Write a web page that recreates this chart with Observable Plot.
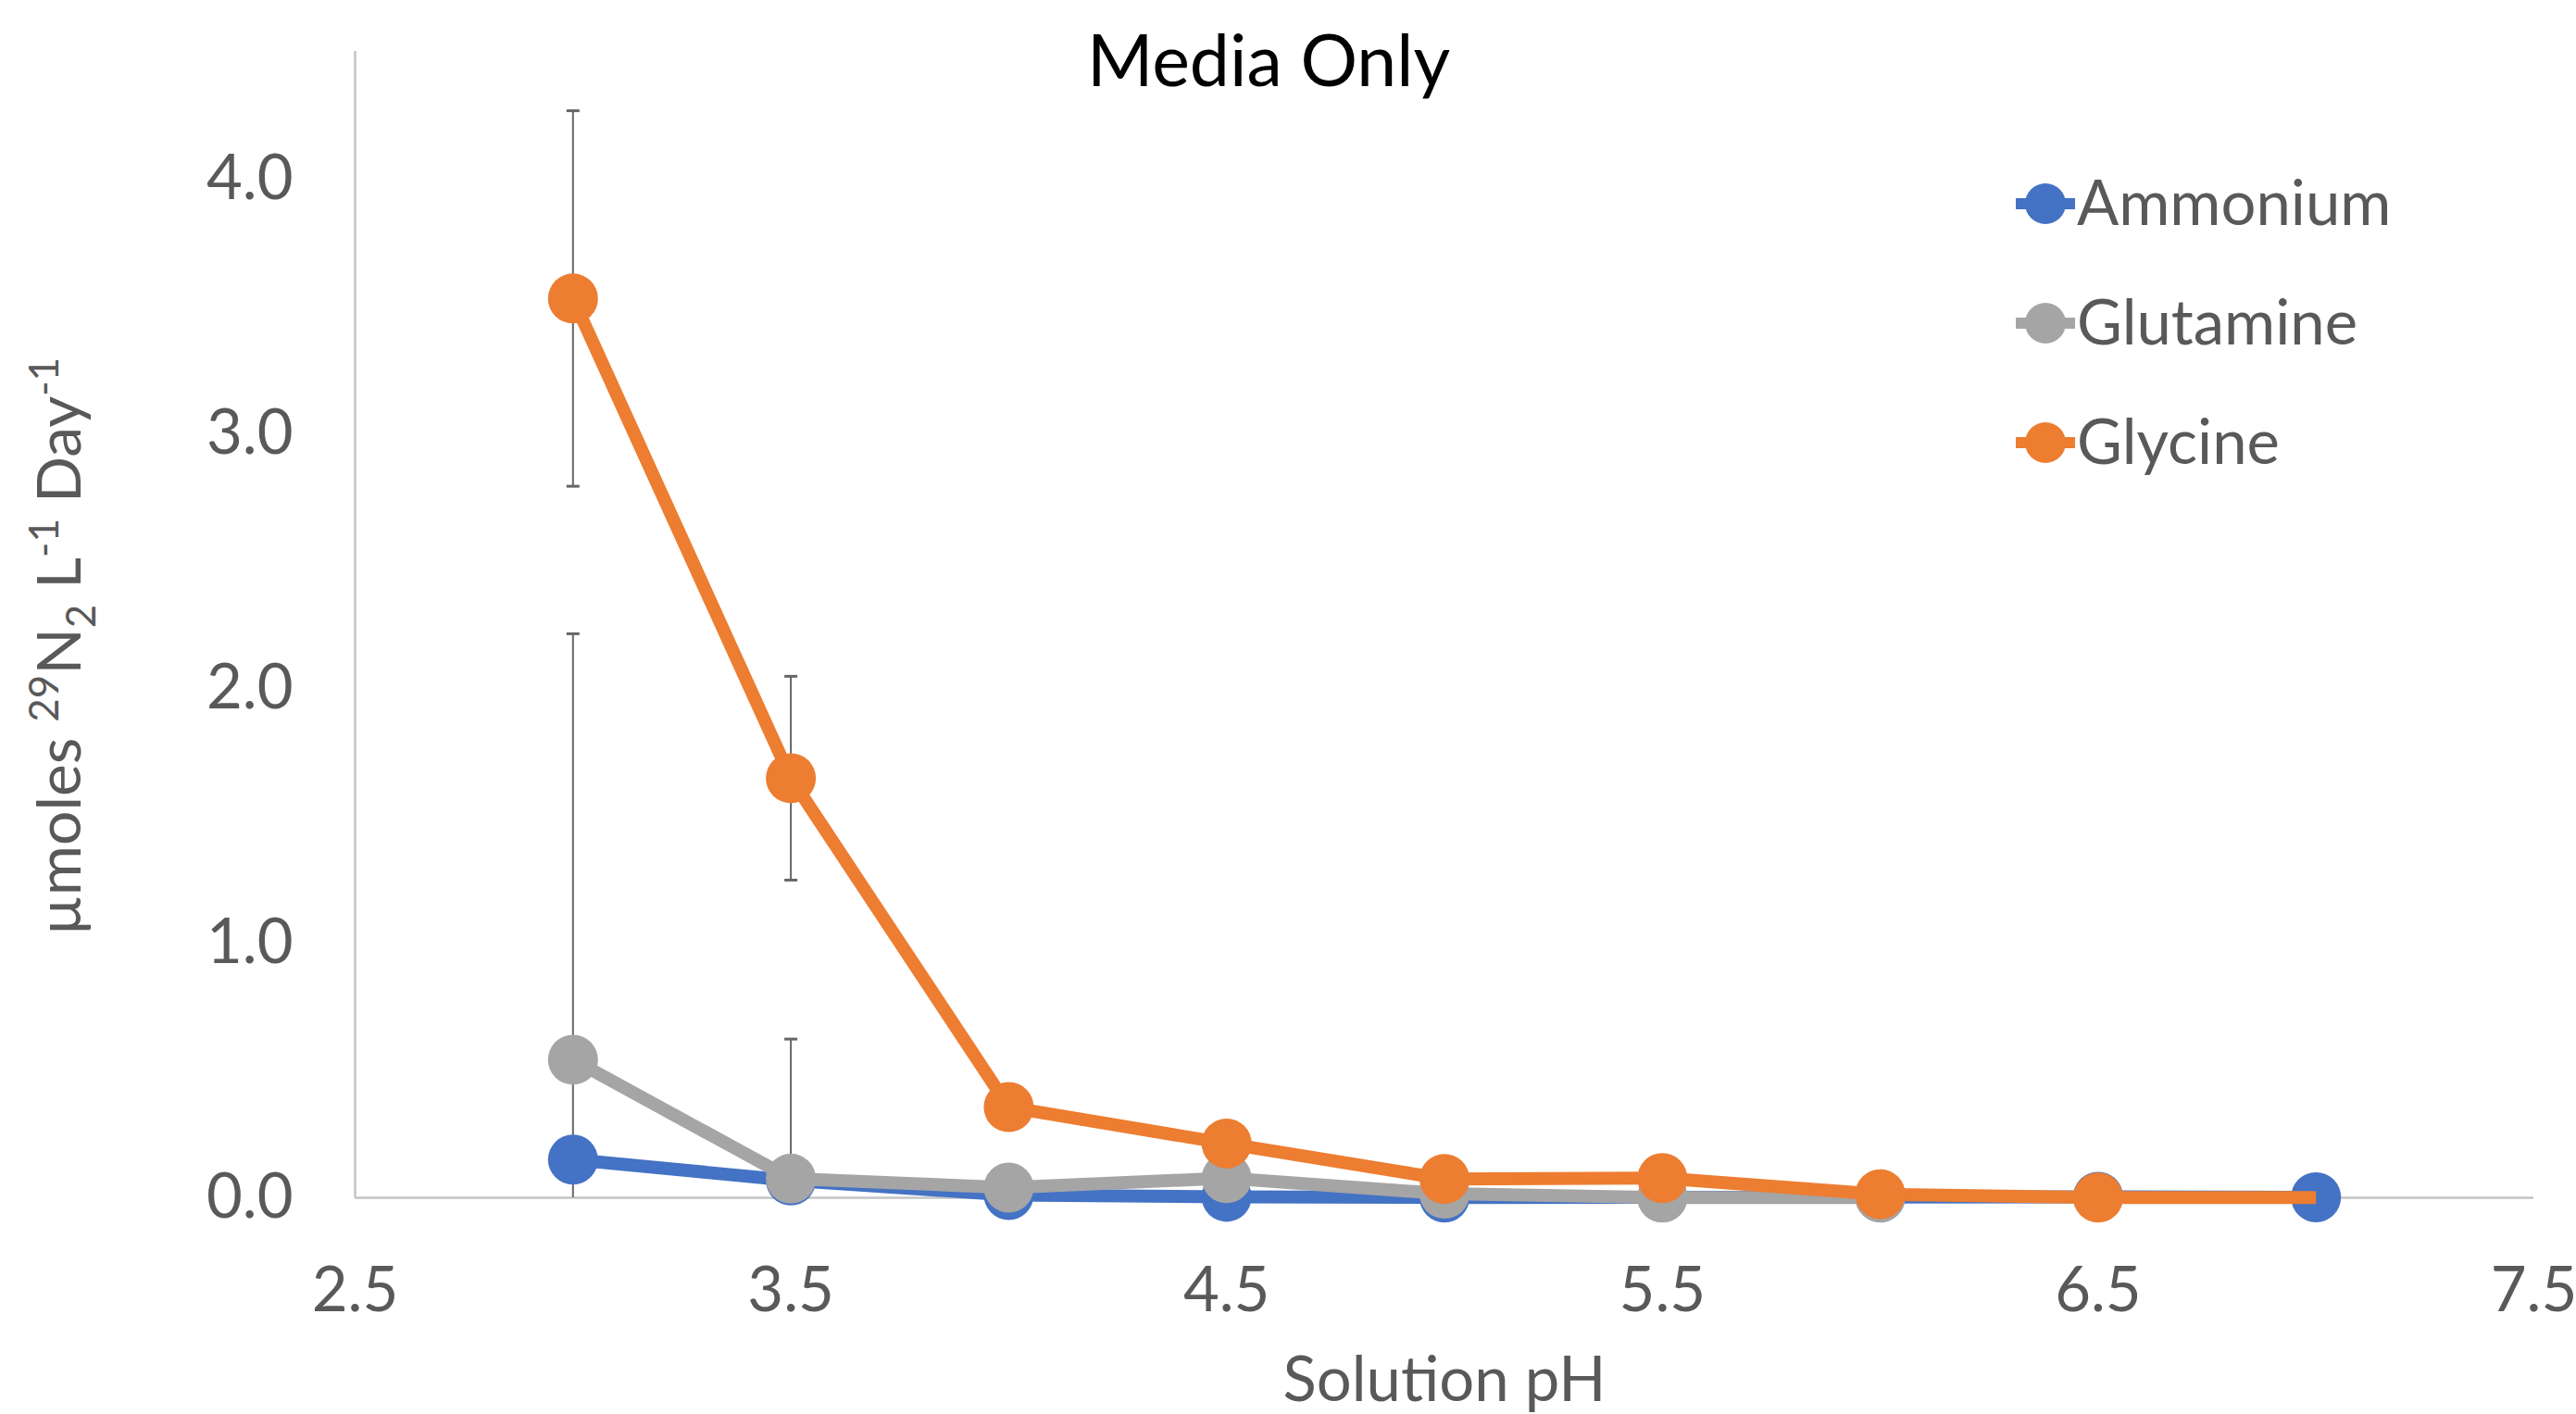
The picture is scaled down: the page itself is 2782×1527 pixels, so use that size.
<!DOCTYPE html>
<html>
<head>
<meta charset="utf-8">
<script src="https://cdn.jsdelivr.net/npm/d3@7"></script>
<script src="https://cdn.jsdelivr.net/npm/@observablehq/plot@0.6"></script>
<style>
html, body { margin: 0; padding: 0; background: #fff; }
#chart { width: 2782px; height: 1527px; }
</style>
</head>
<body>
<div id="chart"></div>
<script>
// ---- data ----
const pH = [3.0, 3.5, 4.0, 4.5, 5.0, 5.5, 6.0, 6.5, 7.0];
const seriesNames = ["Ammonium", "Glutamine", "Glycine"];
const ammonium  = [0.150, 0.068, 0.011, 0.004, 0.001, 0.002, 0.003, 0.004, 0.002];
const glutamine = [0.542, 0.075, 0.040, 0.077, 0.016, 0.001, 0.001, null, null];
const glycine   = [3.530, 1.647, 0.356, 0.213, 0.074, 0.077, 0.014, 0.001, 0.001];
const ammoniumErr  = [null, null, null, null, null, null, null, null, null];
const glutamineErr = [1.672, 0.548, null, null, null, null, null, null, null];
const glycineErr   = [0.737, 0.400, null, null, null, null, null, null, null];
// glycine has no marker drawn at pH 7.0 in the reference
const hiddenMarkers = [{series: "Glycine", pH: 7.0}];
const xTicks = [2.5, 3.5, 4.5, 5.5, 6.5, 7.5];
const yTicks = [0, 1, 2, 3, 4];
const colors = ["#4472C4", "#A5A5A5", "#ED7D31"];
const titleText = "Media Only";
const xLabel = "Solution pH";

// ---- build table ----
const valuesBy = [ammonium, glutamine, glycine];
const errBy = [ammoniumErr, glutamineErr, glycineErr];
const rows = [];
seriesNames.forEach((name, s) => {
  pH.forEach((x, i) => {
    const v = valuesBy[s][i];
    if (v != null) rows.push({series: name, pH: x, v, e: errBy[s][i]});
  });
});
const errRows = rows.filter(d => d.e != null);
const caps = errRows.flatMap(d => [{pH: d.pH, y: d.v + d.e}, {pH: d.pH, y: d.v - d.e}]);
const capSymbol = {
  draw(ctx, size) {
    const w = Math.sqrt(size / Math.PI);
    ctx.moveTo(-w, 0);
    ctx.lineTo(w, 0);
  }
};
const isHidden = d => hiddenMarkers.some(h => h.series === d.series && h.pH === d.pH);

const seriesMarks = seriesNames.flatMap((name, s) => {
  const data = rows.filter(d => d.series === name);
  return [
    Plot.line(data, {x: "pH", y: "v", stroke: colors[s], strokeWidth: 14, strokeLinejoin: "round", strokeLinecap: "butt"}),
    Plot.dot(data.filter(d => !isHidden(d)), {x: "pH", y: "v", r: 27, fill: colors[s], stroke: "none"})
  ];
});

const W = 2782, H = 1527;
const chart = Plot.plot({
  width: W,
  height: H,
  marginLeft: 383,
  marginRight: 46,
  marginTop: 55,
  marginBottom: 234,
  style: {fontFamily: "Lato, sans-serif", fontSize: "67px", color: "#595959", background: "#fff"},
  x: {domain: [2.5, 7.5], label: null},
  y: {domain: [0, 4.5], label: null},
  marks: [
    Plot.ruleY([0], {stroke: "#C4C4C4", strokeWidth: 2.5}),
    Plot.ruleX([2.5], {stroke: "#C4C4C4", strokeWidth: 2.5}),
    Plot.ruleX(errRows, {x: "pH", y1: d => d.v - d.e, y2: d => d.v + d.e, stroke: "#666666", strokeWidth: 2, clip: true}),
    Plot.dot(caps, {x: "pH", y: "y", symbol: capSymbol, r: 7, stroke: "#666666", strokeWidth: 3, fill: "none", clip: true}),
    ...seriesMarks,
    Plot.axisX({ticks: xTicks, tickSize: 0, tickPadding: 75, tickFormat: d3.format(".1f"), fill: "#595959", label: null}),
    Plot.axisY({ticks: yTicks, tickSize: 0, tickPadding: 67, tickFormat: d3.format(".1f"), fill: "#595959", label: null})
  ]
});
document.getElementById("chart").appendChild(chart);

// ---- title, axis titles, legend ----
const svg = d3.select(chart);
svg.append("text")
  .attr("x", 1370).attr("y", 93)
  .attr("text-anchor", "middle")
  .attr("fill", "#000")
  .attr("font-size", 77)
  .text(titleText);

svg.append("text")
  .attr("x", 1560).attr("y", 1513)
  .attr("text-anchor", "middle")
  .attr("fill", "#595959")
  .attr("font-size", 67)
  .text(xLabel);

const yl = svg.append("text")
  .attr("transform", "translate(87,698) rotate(-90)")
  .attr("text-anchor", "middle")
  .attr("fill", "#595959")
  .attr("font-size", 66);
const parts = [
  ["µmoles ", 0, null],
  ["29", -24, 44],
  ["N", 24, null],
  ["2", 16, 44],
  [" L", -16, null],
  ["-1", -24, 44],
  [" Day", 24, null],
  ["-1", -24, 44]
];
parts.forEach(([t, dy, fs]) => {
  const ts = yl.append("tspan").attr("dy", dy).text(t);
  if (fs) ts.attr("font-size", fs);
});

const lg = svg.append("g");
seriesNames.forEach((name, s) => {
  const cy = 220 + 129 * s;
  lg.append("line").attr("x1", 2177).attr("x2", 2241).attr("y1", cy).attr("y2", cy)
    .attr("stroke", colors[s]).attr("stroke-width", 12);
  lg.append("circle").attr("cx", 2209).attr("cy", cy).attr("r", 22).attr("fill", colors[s]);
  lg.append("text").attr("x", 2243).attr("y", cy + 23)
    .attr("text-anchor", "start")
    .attr("fill", "#595959").attr("font-size", 67).text(name);
});
</script>
</body>
</html>
